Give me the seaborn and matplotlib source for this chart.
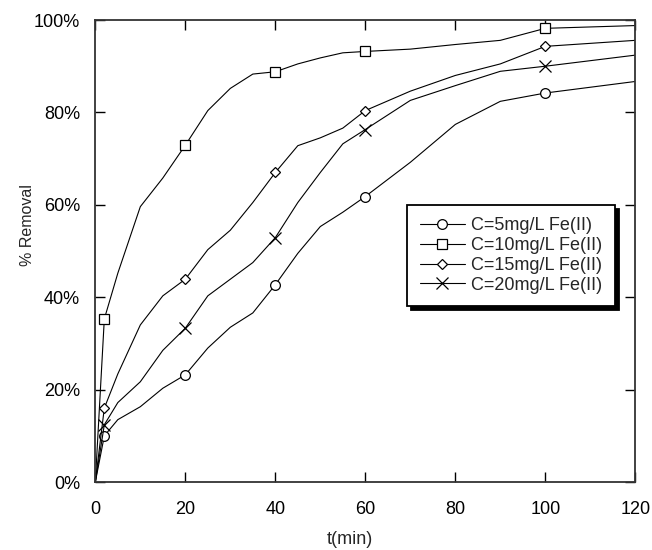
import matplotlib
matplotlib.use("Agg")
import matplotlib.pyplot as plt
import matplotlib.ticker as mticker
import seaborn as sns

# time points (min) and % removal for each Fe(II) dose
t = [0, 2, 5, 10, 15, 20, 25, 30, 35, 40, 45, 50, 55, 60, 70, 80, 90, 100, 120]
c5 = [0, 10.0, 13.5, 16.3, 20.3, 23.2, 29.0, 33.5, 36.6, 42.7, 49.5, 55.3, 58.4, 61.8, 69.2, 77.4, 82.4, 84.2, 86.7]
c10 = [0, 35.3, 45.2, 59.6, 65.8, 72.9, 80.4, 85.2, 88.3, 88.8, 90.5, 91.8, 92.9, 93.2, 93.7, 94.7, 95.6, 98.2, 98.8]
c15 = [0, 16.0, 23.4, 34.0, 40.3, 43.9, 50.3, 54.5, 60.5, 67.0, 72.8, 74.5, 76.6, 80.4, 84.6, 88.0, 90.5, 94.3, 95.6]
c20 = [0, 12.4, 17.2, 21.7, 28.5, 33.3, 40.3, 43.9, 47.5, 52.9, 60.5, 67.0, 73.2, 76.3, 82.6, 85.8, 88.9, 90.0, 92.4]
labels = ["C=5mg/L Fe(II)", "C=10mg/L Fe(II)", "C=15mg/L Fe(II)", "C=20mg/L Fe(II)"]
marked = [1, 5, 9, 13, 17]  # indices that carry a marker (t = 2, 20, 40, 60, 100)

sns.set_style("ticks")
plt.rcParams["font.family"] = ["Liberation Sans", "DejaVu Sans"]

fig = plt.figure(figsize=(6.52, 5.5), dpi=100)
ax = fig.add_axes([0.1462, 0.1236, 0.8282, 0.84])

styles = [("o", 7), ("s", 7.5), ("D", 5), ("x", 8)]
for vals, lab, (m, ms) in zip([c5, c10, c15, c20], labels, styles):
    sns.lineplot(x=t, y=vals, ax=ax, color="black", lw=0.8, marker=m, markersize=ms,
                 markevery=marked, mfc="white", mec="black", mew=0.9, label=lab)

ax.set_xlim(0, 120)
ax.set_ylim(0, 100)
ax.set_xticks(range(0, 121, 20))
ax.set_yticks(range(0, 101, 20))
ax.yaxis.set_major_formatter(mticker.FuncFormatter(lambda v, p: f"{v:.0f}%"))
ax.tick_params(direction="in", length=7, width=1, top=True, right=True,
               labelsize=13, colors="black")
ax.tick_params(axis="x", pad=14)
ax.tick_params(axis="y", pad=11)
for s in ax.spines.values():
    s.set_visible(True)
    s.set_linewidth(1.3)
    s.set_color("#333333")

ax.set_xlabel("t(min)", fontsize=13)
ax.xaxis.set_label_coords(0.4717, -0.105)
ax.set_ylabel("% Removal", fontsize=11.5)
ax.yaxis.set_label_coords(-0.1126, 0.556)

leg = ax.legend(loc="upper left", bbox_to_anchor=(0.577, 0.600), borderaxespad=0,
                fontsize=13, fancybox=False, framealpha=1, edgecolor="black",
                handlelength=2.5, handletextpad=0.35, labelspacing=0.15, borderpad=0.7,
                shadow={"color": "black", "alpha": 1, "ox": 3, "oy": -3})
leg.get_frame().set_linewidth(1.3)

fig.savefig("out.png", dpi=100)
